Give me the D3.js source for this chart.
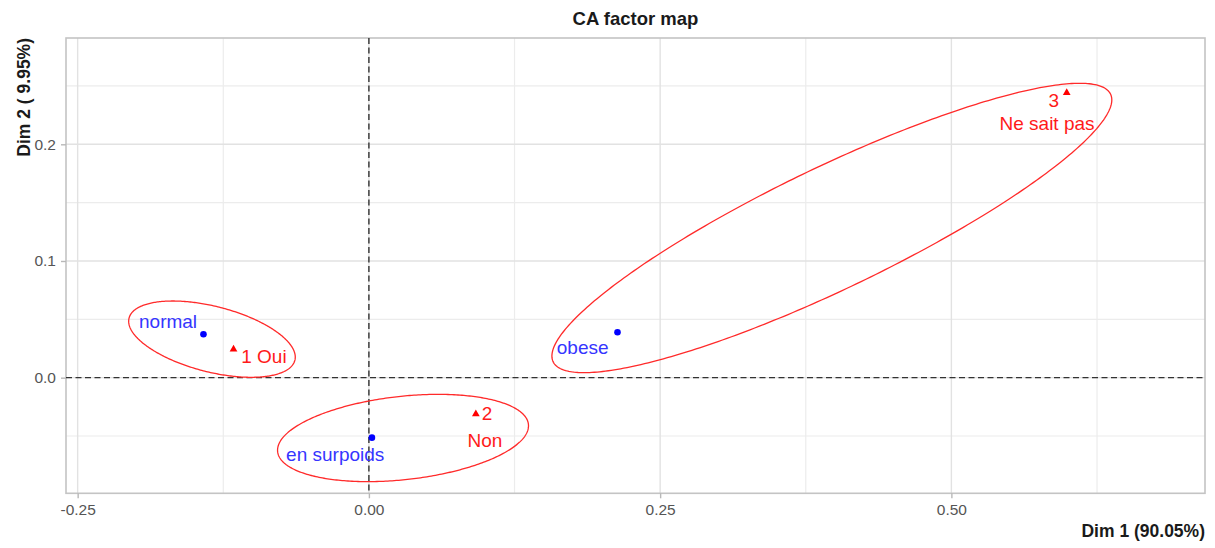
<!DOCTYPE html>
<html>
<head>
<meta charset="utf-8">
<script src="https://cdn.jsdelivr.net/npm/d3@7"></script>
<style>
  html, body { margin: 0; padding: 0; background: #fff; }
  svg { display: block; font-family: "Liberation Sans", Arial, sans-serif; }
</style>
</head>
<body>
<svg id="chart" width="1215" height="548"></svg>
<script>
// Column categories (blue dots) and their coordinates on Dim 1 / Dim 2
const colNames = ["normal", "en surpoids", "obese"];
const colDim1 = [-0.1420, 0.0026, 0.2134];
const colDim2 = [0.0372, -0.0514, 0.0389];

// Row categories (red triangles)
const rowNames = ["1 Oui", "2\nNon", "3\nNe sait pas"];
const rowDim1 = [-0.1162, 0.0918, 0.5990];
const rowDim2 = [0.0243, -0.0312, 0.2442];

// Label anchors (one entry per text line), in Dim 1 / Dim 2 units
const labelText  = ["normal", "en surpoids", "obese", "1 Oui", "2", "Non", "3", "Ne sait pas"];
const labelGroup = ["col", "col", "col", "row", "row", "row", "row", "row"];
const labelDim1  = [-0.1724, -0.0289, 0.1835, -0.0901, 0.1015, 0.0996, 0.5879, 0.5821];
const labelDim2  = [0.0423, -0.0714, 0.0201, 0.0123, -0.0362, -0.0591, 0.2322, 0.2123];

// Group ellipses: centre, half-extent on each axis, correlation
const ellCx  = [-0.1347, 0.0293, 0.3974];
const ellCy  = [0.0330, -0.0517, 0.1283];
const ellHx  = [0.0715, 0.1077, 0.2403];
const ellHy  = [0.0327, 0.0374, 0.1240];
const ellRho = [-0.47, 0.28, 0.885];

// Axis ticks
const xMajor = [-0.25, 0, 0.25, 0.5];
const xMinor = [-0.125, 0.125, 0.375, 0.625];
const yMajor = [0, 0.1, 0.2];
const yMinor = [-0.05, 0.05, 0.15, 0.25];

const title = "CA factor map";
const xTitle = "Dim 1 (90.05%)";
const yTitle = "Dim 2 ( 9.95%)";

const svg = d3.select("#chart");
const pLeft = 66, pRight = 1205, pTop = 38, pBottom = 493.3;

const x = d3.scaleLinear().domain([-0.26, 0.7177]).range([pLeft, pRight]);
const y = d3.scaleLinear().domain([-0.0991, 0.2911]).range([pBottom, pTop]);

// Minor grid
const g = svg.append("g");
g.selectAll("line.vminor").data(xMinor).join("line")
  .attr("x1", d => x(d)).attr("x2", d => x(d)).attr("y1", pTop).attr("y2", pBottom)
  .attr("stroke", "#ececec").attr("stroke-width", 1.2);
g.selectAll("line.hminor").data(yMinor).join("line")
  .attr("y1", d => y(d)).attr("y2", d => y(d)).attr("x1", pLeft).attr("x2", pRight)
  .attr("stroke", "#ececec").attr("stroke-width", 1.2);
// Major grid
g.selectAll("line.vmajor").data(xMajor).join("line")
  .attr("x1", d => x(d)).attr("x2", d => x(d)).attr("y1", pTop).attr("y2", pBottom)
  .attr("stroke", "#e2e2e2").attr("stroke-width", 1.4);
g.selectAll("line.hmajor").data(yMajor).join("line")
  .attr("y1", d => y(d)).attr("y2", d => y(d)).attr("x1", pLeft).attr("x2", pRight)
  .attr("stroke", "#e2e2e2").attr("stroke-width", 1.4);

// Panel border
svg.append("rect")
  .attr("x", pLeft).attr("y", pTop).attr("width", pRight - pLeft).attr("height", pBottom - pTop)
  .attr("fill", "none").attr("stroke", "#c4c4c4").attr("stroke-width", 1.6);

// Axes
const fmtX = d => d3.format(".2f")(d).replace("\u2212", "-");
const fmtY = d => d3.format(".1f")(d).replace("\u2212", "-");
const xAxis = svg.append("g").attr("transform", `translate(0,${pBottom})`)
  .call(d3.axisBottom(x).tickValues(xMajor).tickFormat(fmtX).tickSize(5).tickPadding(6));
const yAxis = svg.append("g").attr("transform", `translate(${pLeft},0)`)
  .call(d3.axisLeft(y).tickValues(yMajor).tickFormat(fmtY).tickSize(5).tickPadding(5));
[xAxis, yAxis].forEach(a => {
  a.select(".domain").remove();
  a.selectAll(".tick line").attr("stroke", "#b8b8b8").attr("stroke-width", 1.4);
  a.selectAll(".tick text").attr("fill", "#555").attr("font-size", 15.5)
    .attr("font-family", "'Liberation Sans', Arial, sans-serif");
});

// Reference lines at the origin
svg.append("line").attr("x1", pLeft).attr("x2", pRight).attr("y1", y(0)).attr("y2", y(0))
  .attr("stroke", "#333").attr("stroke-width", 1.4).attr("stroke-dasharray", "6,3.5");
svg.append("line").attr("x1", x(0)).attr("x2", x(0)).attr("y1", pTop).attr("y2", pBottom)
  .attr("stroke", "#333").attr("stroke-width", 1.4).attr("stroke-dasharray", "6,3.5");

// Ellipses
const ellipses = ellCx.map((cx, i) => ({cx, cy: ellCy[i], hx: ellHx[i], hy: ellHy[i], rho: ellRho[i]}));
const line = d3.line().x(p => x(p[0])).y(p => y(p[1])).curve(d3.curveLinearClosed);
svg.selectAll("path.ell").data(ellipses).join("path")
  .attr("d", e => {
    const phi = Math.acos(e.rho);
    const pts = d3.range(0, 360, 1).map(a => {
      const t = a * Math.PI / 180;
      return [e.cx + e.hx * Math.cos(t), e.cy + e.hy * Math.cos(t - phi)];
    });
    return line(pts);
  })
  .attr("fill", "none").attr("stroke", "#ff2a2a").attr("stroke-width", 1.3);

// Column points
svg.selectAll("circle.col").data(colNames.map((n, i) => [colDim1[i], colDim2[i]])).join("circle")
  .attr("cx", d => x(d[0])).attr("cy", d => y(d[1])).attr("r", 3.3).attr("fill", "#0000ff");

// Row points
const tri = d3.symbol().type(d3.symbolTriangle).size(26);
svg.selectAll("path.row").data(rowNames.map((n, i) => [rowDim1[i], rowDim2[i]])).join("path")
  .attr("transform", d => `translate(${x(d[0])},${y(d[1])})`)
  .attr("d", tri).attr("fill", "#ff0000");

// Labels
svg.selectAll("text.lab").data(labelText.map((t, i) => ({t, g: labelGroup[i], x: labelDim1[i], y: labelDim2[i]})))
  .join("text")
  .attr("x", d => x(d.x)).attr("y", d => y(d.y))
  .attr("text-anchor", "middle").attr("font-size", 19)
  .attr("fill", d => d.g === "col" ? "#3535ff" : "#ff1a1a")
  .text(d => d.t);

// Titles
svg.append("text").attr("x", (pLeft + pRight) / 2).attr("y", 24.5)
  .attr("text-anchor", "middle").attr("font-size", 18.5).attr("font-weight", "bold")
  .attr("fill", "#1a1a1a").text(title);
svg.append("text").attr("x", pRight).attr("y", 536.5)
  .attr("text-anchor", "end").attr("font-size", 17.5).attr("font-weight", "bold")
  .attr("fill", "#1a1a1a").text(xTitle);
svg.append("text").attr("transform", `translate(30,${pTop}) rotate(-90)`)
  .attr("text-anchor", "end").attr("font-size", 17.5).attr("font-weight", "bold")
  .attr("fill", "#1a1a1a").text(yTitle);
</script>
</body>
</html>
